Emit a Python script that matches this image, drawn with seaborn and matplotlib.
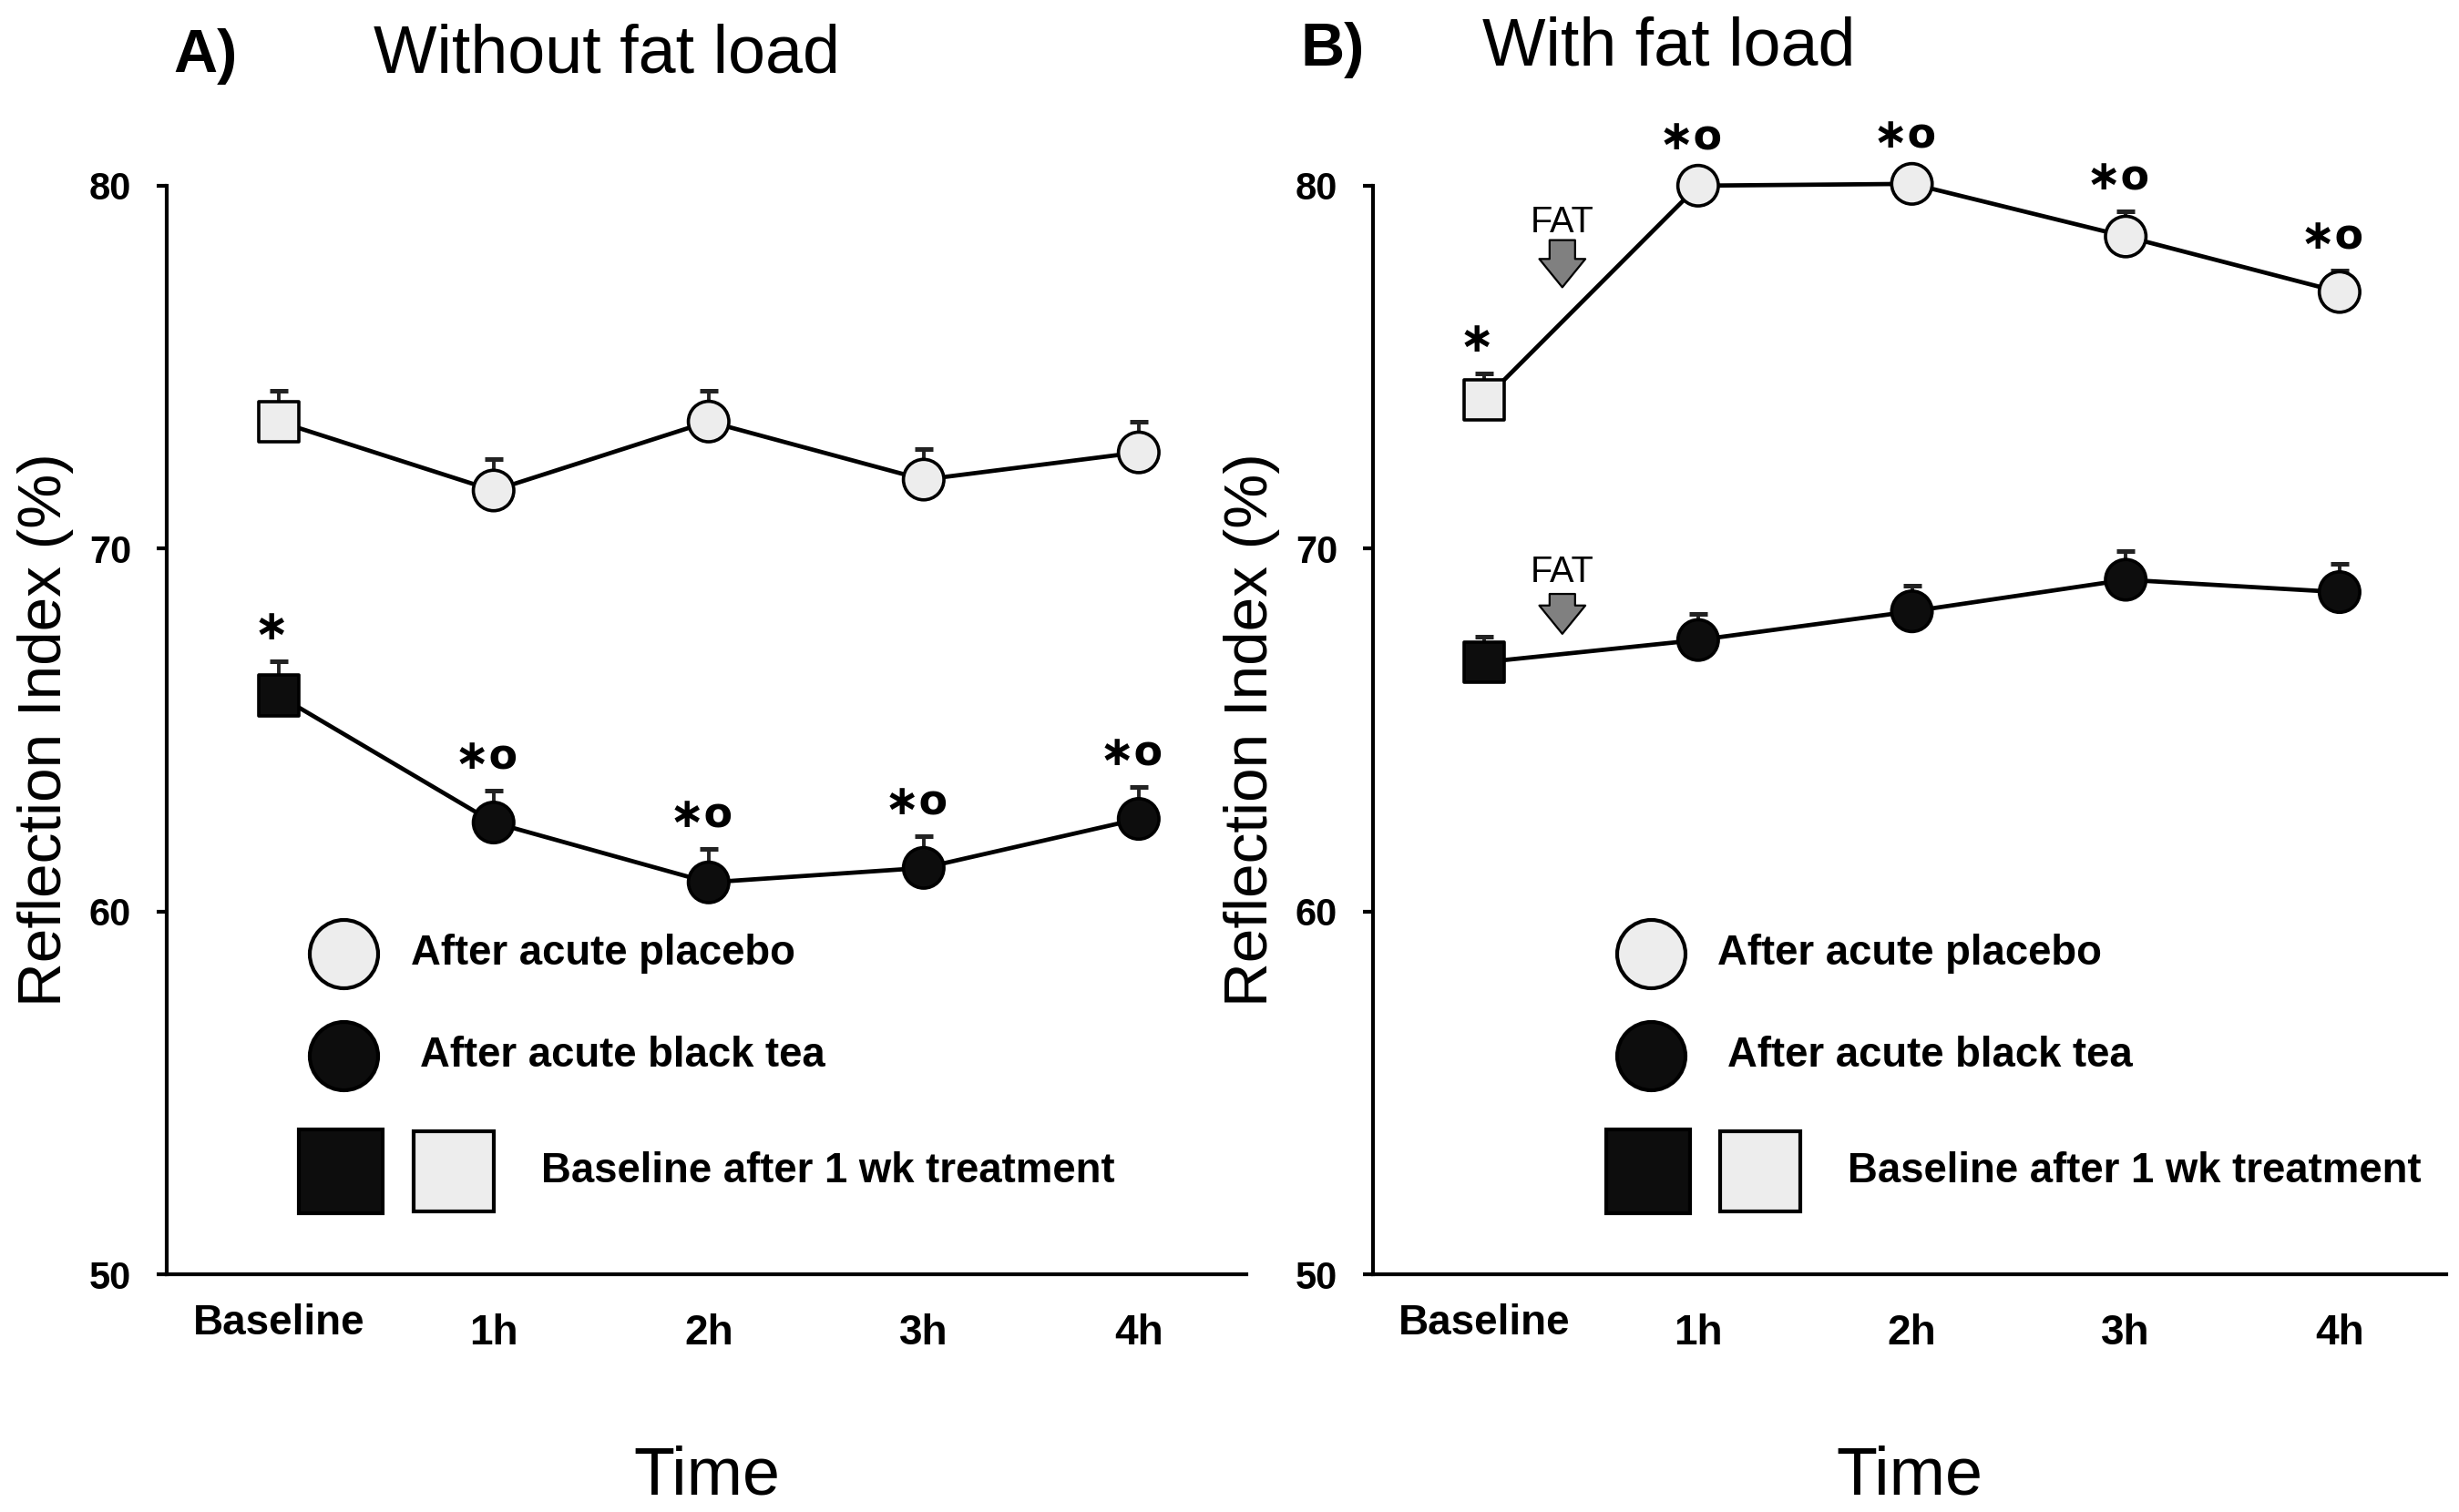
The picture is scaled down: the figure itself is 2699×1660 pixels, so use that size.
import numpy as np
import pandas as pd
import matplotlib
matplotlib.use("Agg")
import matplotlib.pyplot as plt
import matplotlib.transforms as mtransforms
import seaborn as sns

# --- data ---
time_labels = ["Baseline", "1h", "2h", "3h", "4h"]
shapes = ["square", "circle", "circle", "circle", "circle"]

# panel A: without fat load
a_placebo = [73.5, 71.6, 73.5, 71.9, 72.65]
a_placebo_err = [0.85, 0.87, 0.86, 0.84, 0.85]
a_tea = [65.95, 62.45, 60.8, 61.2, 62.55]
a_tea_err = [0.95, 0.87, 0.92, 0.88, 0.87]
a_placebo_marks = ["", "", "", "", ""]
a_tea_marks = ["*", "*o", "*o", "*o", "*o"]

# panel B: with fat load
b_placebo = [74.1, 80.0, 80.05, 78.6, 77.07]
b_placebo_err = [0.73, 0.4, 0.4, 0.69, 0.6]
b_tea = [66.87, 67.48, 68.27, 69.14, 68.8]
b_tea_err = [0.69, 0.73, 0.7, 0.8, 0.77]
b_placebo_marks = ["*", "*o", "*o", "*o", "*o"]
b_tea_marks = ["", "", "", "", ""]

WHITE = "#ededed"
BLACK = "#0d0d0d"

sns.set_theme(style="ticks")
plt.rcParams["font.family"] = ["Liberation Sans", "DejaVu Sans"]
for key in ["text.color", "axes.labelcolor", "xtick.color", "ytick.color"]:
    plt.rcParams[key] = "black"

fig = plt.figure(figsize=(13.495, 8.3), dpi=200)
ax_a = fig.add_axes([0.0678, 0.1572, 0.439, 0.72])
ax_b = fig.add_axes([0.5584, 0.1572, 0.4365, 0.72])


def draw_series(ax, values, errs, marks, face):
    df = pd.DataFrame({"x": np.arange(len(values)), "y": values, "shape": shapes})
    sns.lineplot(data=df, x="x", y="y", ax=ax, color="black", linewidth=1.7,
                 zorder=2, clip_on=False, legend=False)
    ax.errorbar(df["x"], df["y"], yerr=[np.zeros(len(errs)), errs], fmt="none",
                ecolor="#222222", elinewidth=1.4, capsize=3.6, capthick=1.8,
                zorder=2.5, clip_on=False)
    sns.scatterplot(data=df, x="x", y="y", style="shape",
                    markers={"square": "s", "circle": "o"}, s=256, color=face,
                    edgecolor="black", linewidth=1.3, ax=ax, zorder=3,
                    clip_on=False, legend=False)
    for xi, yi, ei, m in zip(df["x"], df["y"], errs, marks):
        if m:
            txt = m.replace("*", "\u2217")
            ax.annotate(txt, (xi, yi + ei), xytext=(-3, 13), textcoords="offset points",
                        ha="center", va="center", fontsize=16.5, fontweight="bold",
                        family=["DejaVu Sans"], annotation_clip=False)


def style_axes(ax):
    ax.set_xlim(-0.52, 4.5)
    ax.set_ylim(50, 80)
    ax.set_yticks([50, 60, 70, 80])
    ax.set_xticks(range(len(time_labels)))
    ax.set_xticklabels(time_labels)
    sns.despine(ax=ax)
    for side in ["left", "bottom"]:
        ax.spines[side].set_linewidth(1.5)
        ax.spines[side].set_color("black")
    ax.tick_params(axis="y", direction="out", length=4, width=1.5, pad=10,
                   labelsize=15, color="black")
    ax.tick_params(axis="x", length=0, pad=15.5, labelsize=16.5)
    for lab in ax.get_xticklabels() + ax.get_yticklabels():
        lab.set_fontweight("bold")
    base = ax.get_xticklabels()[0]
    base.set_transform(base.get_transform() +
                       mtransforms.ScaledTranslation(0, 4 / 72, fig.dpi_scale_trans))
    ax.set_xlabel("Time", fontsize=26.5, labelpad=36)
    ax.set_ylabel("Reflection Index (%)", fontsize=24.3, labelpad=6)


def draw_legend(ax, x0):
    tr = ax.transAxes
    ax.plot([x0], [0.2946], marker="o", ms=27, mfc=WHITE, mec="black", mew=1.5,
            transform=tr, clip_on=False, ls="none")
    ax.text(x0 + 0.062, 0.2946, "After acute placebo", transform=tr, va="center",
            fontsize=16.4, fontweight="bold")
    ax.plot([x0], [0.2008], marker="o", ms=27, mfc=BLACK, mec="black", mew=1.5,
            transform=tr, clip_on=False, ls="none")
    ax.text(x0 + 0.071, 0.2008, "After acute black tea", transform=tr, va="center",
            fontsize=16.4, fontweight="bold")
    ax.plot([x0 - 0.003], [0.0946], marker="s", ms=33, mfc=BLACK, mec="black", mew=1.5,
            transform=tr, clip_on=False, ls="none")
    ax.plot([x0 + 0.102], [0.0946], marker="s", ms=32, mfc=WHITE, mec="black", mew=1.5,
            transform=tr, clip_on=False, ls="none")
    ax.text(x0 + 0.183, 0.0946, "Baseline after 1 wk treatment", transform=tr,
            va="center", fontsize=16.4, fontweight="bold")


# panel A
draw_series(ax_a, a_placebo, a_placebo_err, a_placebo_marks, WHITE)
draw_series(ax_a, a_tea, a_tea_err, a_tea_marks, BLACK)
style_axes(ax_a)
draw_legend(ax_a, 0.164)

# panel B
draw_series(ax_b, b_placebo, b_placebo_err, b_placebo_marks, WHITE)
draw_series(ax_b, b_tea, b_tea_err, b_tea_marks, BLACK)
style_axes(ax_b)
draw_legend(ax_b, 0.259)

# fat load arrows in panel B
for y_txt, y_top, y_bot in [(79.0, 78.5, 77.2), (69.35, 68.75, 67.65)]:
    ax_b.text(0.365, y_txt, "FAT", ha="center", va="center", fontsize=14.3)
    ax_b.annotate("", xy=(0.365, y_bot), xytext=(0.365, y_top),
                  arrowprops=dict(arrowstyle="simple,head_width=0.65,head_length=0.4,tail_width=0.36",
                                  fc="#808080", ec="black", lw=0.8,
                                  shrinkA=0, shrinkB=0, mutation_scale=28))

# panel titles
fig.text(190 / 2699, 1 - 79 / 1660, "A)", fontsize=24, fontweight="bold", va="baseline")
fig.text(410 / 2699, 1 - 79 / 1660, "Without fat load", fontsize=26.5, va="baseline")
fig.text(1427 / 2699, 1 - 72 / 1660, "B)", fontsize=24, fontweight="bold", va="baseline")
fig.text(1627 / 2699, 1 - 72 / 1660, "With fat load", fontsize=26.5, va="baseline")

fig.savefig("out.png", dpi=200, facecolor="white")
